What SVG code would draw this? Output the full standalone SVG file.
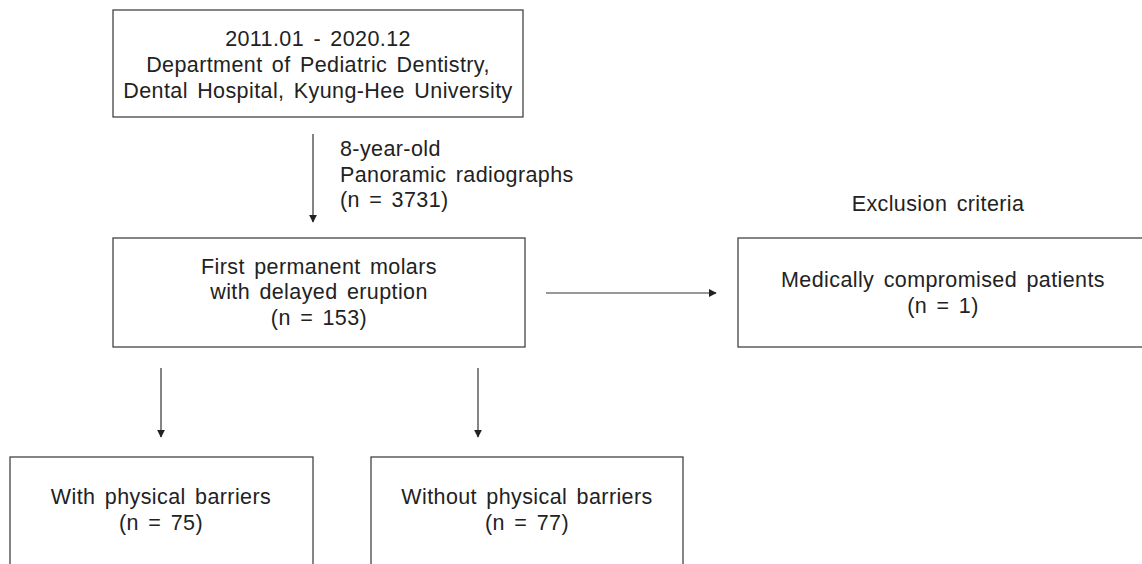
<svg xmlns="http://www.w3.org/2000/svg" width="1142" height="564" viewBox="0 0 1142 564">
<style>
.box{fill:#fff;stroke:#444;stroke-width:1.3}
.t{font-family:"Liberation Sans",Arial,sans-serif;font-size:21.5px;fill:#222;text-anchor:middle;word-spacing:3px;letter-spacing:0.4px}
.l{text-anchor:start}
.c{stroke:#333;stroke-width:1.2;fill:none;marker-end:url(#ah)}
</style>
<defs>
<marker id="ah" viewBox="0 0 10 10" refX="9" refY="5" markerWidth="8" markerHeight="8" markerUnits="userSpaceOnUse" orient="auto">
<path d="M0,0 L10,5 L0,10 Z" fill="#222"/>
</marker>
</defs>
<rect width="1142" height="564" fill="#fff"/>
<g id="connectors">
<line class="c" x1="313" y1="134" x2="313" y2="222"/>
<line class="c" x1="546" y1="293" x2="716" y2="293"/>
<line class="c" x1="161" y1="368" x2="161" y2="437"/>
<line class="c" x1="478" y1="368" x2="478" y2="437"/>
</g>
<g id="edge-label">
<text class="t l" x="340" y="156">8-year-old</text>
<text class="t l" x="340" y="182">Panoramic radiographs</text>
<text class="t l" x="340" y="207">(n = 3731)</text>
</g>
<g id="source">
<rect class="box" x="113" y="10" width="410" height="107"/>
<text class="t" x="318" y="46">2011.01 - 2020.12</text>
<text class="t" x="318" y="72">Department of Pediatric Dentistry,</text>
<text class="t" x="318" y="98">Dental Hospital, Kyung-Hee University</text>
</g>
<g id="delayed">
<rect class="box" x="113" y="238" width="412" height="109"/>
<text class="t" x="319" y="274">First permanent molars</text>
<text class="t" x="319" y="299">with delayed eruption</text>
<text class="t" x="319" y="325">(n = 153)</text>
</g>
<g id="exclusion">
<text class="t" x="938" y="211">Exclusion criteria</text>
<rect class="box" x="738" y="238" width="410" height="109"/>
<text class="t" x="943" y="287">Medically compromised patients</text>
<text class="t" x="943" y="313">(n = 1)</text>
</g>
<g id="with-barriers">
<rect class="box" x="10" y="457" width="303" height="115"/>
<text class="t" x="161" y="504">With physical barriers</text>
<text class="t" x="161" y="530">(n = 75)</text>
</g>
<g id="without-barriers">
<rect class="box" x="371" y="457" width="312" height="115"/>
<text class="t" x="527" y="504">Without physical barriers</text>
<text class="t" x="527" y="530">(n = 77)</text>
</g>
</svg>
